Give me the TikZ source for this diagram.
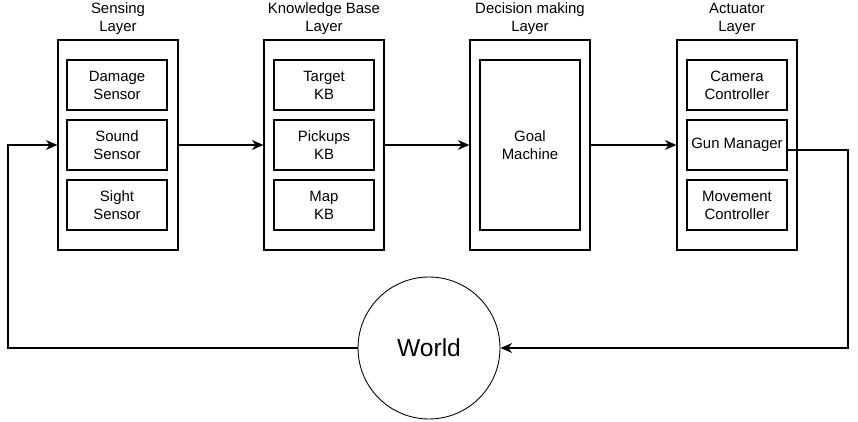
\documentclass[tikz,border=0pt]{standalone}
\usepackage{fontspec}
\setmainfont{Liberation Sans}
\usetikzlibrary{arrows.meta}

\tikzset{
  layerbox/.style={draw, line width=0.6pt, minimum width=2.4cm, minimum height=4.2cm, inner sep=0pt},
  unitbox/.style={draw, line width=0.6pt, minimum width=2cm, minimum height=1cm, inner sep=0pt,
    align=center, font=\fontsize{8.5}{10.2}\selectfont},
  layertitle/.style={align=center, inner sep=0pt, font=\fontsize{8.5}{10.2}\selectfont},
  flow/.style={line width=1.2pt, -{Stealth[length=6.5pt, width=5.5pt, inset=2pt]}},
}

\begin{document}
\begin{tikzpicture}[x=0.02cm, y=-0.02cm]
  \useasboundingbox (0,0) rectangle (858,422);

  % Drawing sensing layer
  \node[layertitle] (senstitle) at (118,19) {Sensing\\Layer};%
  \node[layerbox] (sens) at (118,145) {};%
  \node[unitbox] (damage) at (117,85) {Damage\\Sensor};%
  \node[unitbox] (sound) at (117,145) {Sound\\Sensor};%
  \node[unitbox] (sight) at (117,205) {Sight\\Sensor};%

  % Drawing knowledge base layer
  \node[layertitle] (kbtitle) at (324,19) {Knowledge Base\\Layer};%
  \node[layerbox] (kb) at (324,145) {};%
  \node[unitbox] (target) at (324,85) {Target\\KB};%
  \node[unitbox] (pickups) at (324,145) {Pickups\\KB};%
  \node[unitbox] (map) at (324,205) {Map\\KB};%

  % Drawing decision making layer
  \node[layertitle] (dectitle) at (530,19) {Decision making\\Layer};%
  \node[layerbox] (dec) at (530,145) {};%
  \node[unitbox, minimum height=3.4cm] (goal) at (530,145) {Goal\\Machine};%

  % Drawing actuator layer
  \node[layertitle] (acttitle) at (737,19) {Actuator\\Layer};%
  \node[layerbox] (act) at (737,145) {};%
  \node[unitbox] (camera) at (737,85) {Camera\\Controller};%
  \node[unitbox] (gun) at (737,145) {Gun Manager};%
  \node[unitbox] (movement) at (737,205) {Movement\\Controller};%

  % Drawing world
  \node[draw, circle, line width=0.5pt, minimum size=2.84cm, inner sep=0pt,
    font=\fontsize{14}{16}\selectfont] (world) at (429,348) {World};%

  % Drawing connectors
  \coordinate (rturn) at (848,348);%
  \coordinate (lturn) at (8,145);%
  \draw[flow] (sens) -- (kb);%
  \draw[flow] (kb) -- (dec);%
  \draw[flow] (dec) -- (act);%
  \draw[flow] ([yshift=-0.1cm]gun.east) -| (rturn) -- (world.east);%
  \draw[flow] (world.west) -| (lturn) -- (sens.west);%
\end{tikzpicture}
\end{document}
